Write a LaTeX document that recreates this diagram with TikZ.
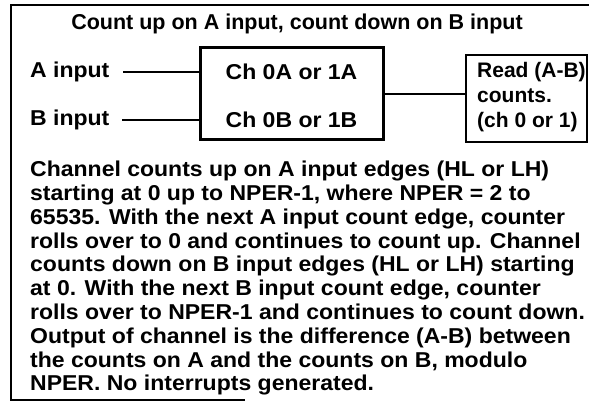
\documentclass[tikz,border=0pt]{standalone}
\usepackage{fontspec}
\setmainfont{Liberation Sans}
\newfontfamily\widefont[FakeStretch=1.07]{Liberation Sans}
\begin{document}
\begin{tikzpicture}[x=1pt,y=-1pt,
  every node/.style={font=\fontsize{21.5}{23.8}\selectfont\bfseries, inner sep=0pt},
  wide/.style={font=\widefont\fontsize{21.5}{23.8}\selectfont\bfseries},
  wire/.style={line width=2.5pt},
  chbox/.style={draw, line width=3pt, minimum width=183pt, minimum height=92pt},
  readbox/.style={draw, line width=2pt, minimum width=121pt, minimum height=87pt},
  frame/.style={line width=2.5pt}]
\useasboundingbox (0,0) rectangle (589,406);
% outer frame (partially visible in the scan)
\coordinate (f1) at (589,5);
\coordinate (f2) at (11,5);
\coordinate (f3) at (11,400);
\coordinate (f4) at (245,400);
\draw[frame] (f1) -- (f2) -- (f3) -- (f4);
\node (title) at (297,24) {Count up on A input, count down on B input};
\node[wide, anchor=west] (ain) at (30,72) {A input};
\node[wide, anchor=west] (bin) at (30,120) {B input};
\node[chbox] (ch) at (291.5,94) {};
\node[wide] (cha) at (ch.center |- ain) {Ch 0A or 1A};
\node[wide] (chb) at (ch.center |- bin) {Ch 0B or 1B};
\node[readbox] (rd) at (526.5,98.5) {};
\node[anchor=north west, align=left, font=\fontsize{21}{25}\selectfont\bfseries] (rdt) at (477,62) {Read (A-B)\\counts.\\(ch 0 or 1)};
\coordinate (a0) at (123,72);
\coordinate (b0) at (122,120);
\draw[wire] (a0) -- (a0 -| ch.west);
\draw[wire] (b0) -- (b0 -| ch.west);
\draw[wire] (ch.east) -- (ch.east -| rd.west);
\node[wide, anchor=north west, align=left] (body) at (30,161) {Channel counts up on A input edges (HL or LH)\\
starting at 0 up to NPER-1, where NPER = 2 to\\
65535. With the next A input count edge, counter\\
rolls over to 0 and continues to count up. Channel\\
counts down on B input edges (HL or LH) starting\\
at 0. With the next B input count edge, counter\\
rolls over to NPER-1 and continues to count down.\\
Output of channel is the difference (A-B) between\\
the counts on A and the counts on B, modulo\\
NPER. No interrupts generated.};
\end{tikzpicture}
\end{document}
